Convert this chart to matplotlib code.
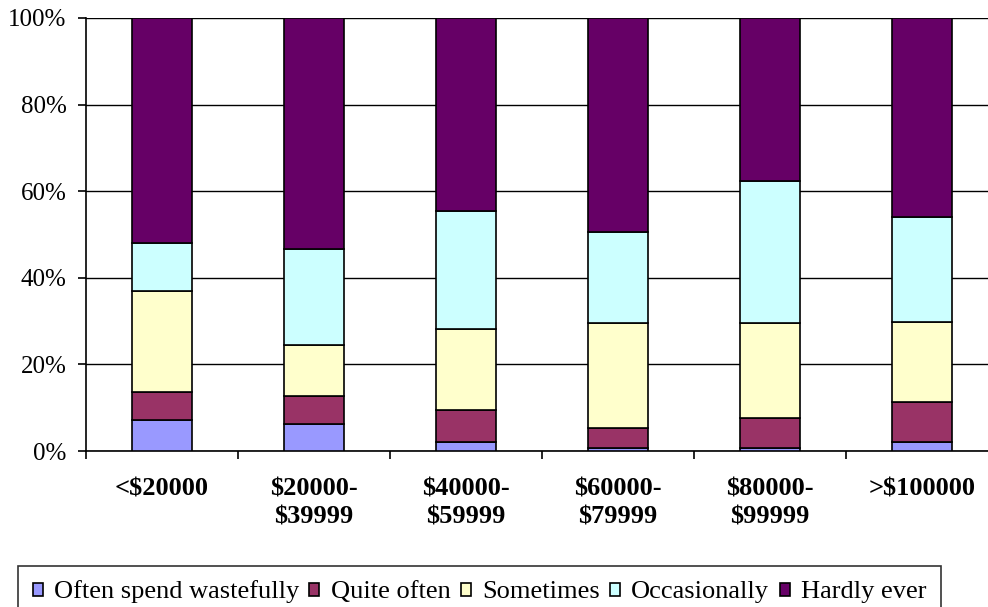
import numpy as np
import matplotlib.pyplot as plt
from matplotlib.ticker import FixedLocator, PercentFormatter

plt.rcParams["font.family"] = ["Liberation Serif", "DejaVu Serif"]

categories = ["<$20000", "$20000-\n$39999", "$40000-\n$59999", "$60000-\n$79999", "$80000-\n$99999", ">$100000"]
series_names = ["Often spend wastefully", "Quite often", "Sometimes", "Occasionally", "Hardly ever"]

# percentages (each column sums to 100)
often = [7.1, 6.2, 2.0, 0.6, 0.6, 2.0]
quite_often = [6.6, 6.5, 7.5, 4.7, 7.0, 9.3]
sometimes = [23.2, 11.7, 18.6, 24.2, 21.9, 18.6]
occasionally = [11.2, 22.2, 27.4, 21.0, 32.9, 24.1]
hardly_ever = [51.9, 53.4, 44.5, 49.5, 37.6, 46.0]

colors = ["#9999FF", "#993366", "#FFFFCC", "#CCFFFF", "#660066"]

fig = plt.figure(figsize=(9.88, 6.07), dpi=100)
W, H = 988, 607
# plot area runs past the right edge like the reference crop
ax = fig.add_axes([86 / W, (H - 451) / H, 912 / W, 433 / H])

x = np.arange(len(categories))
bottom = np.zeros(len(categories))
handles = []
for name, vals, col in zip(series_names, [often, quite_often, sometimes, occasionally, hardly_ever], colors):
    vals = np.array(vals)
    b = ax.bar(x, vals, width=0.395, bottom=bottom, color=col, edgecolor="black",
               linewidth=1.2, label=name, zorder=3)
    handles.append(b)
    bottom += vals

ax.set_xlim(-0.5, len(categories) - 0.5)
ax.set_ylim(0, 100)
ax.yaxis.set_major_locator(FixedLocator([0, 20, 40, 60, 80, 100]))
ax.yaxis.set_major_formatter(PercentFormatter(decimals=0))
ax.grid(axis="y", color="black", linewidth=1, zorder=0)

for side in ["top", "right"]:
    ax.spines[side].set_visible(False)
ax.spines["left"].set_linewidth(1.2)
ax.spines["bottom"].set_linewidth(1.2)

ax.set_xticks(x)
ax.set_xticklabels(categories, fontsize=19, fontweight="bold", linespacing=1.3)
ax.tick_params(axis="x", length=0, pad=19)
ax.set_xticks(np.arange(len(categories) + 1) - 0.5, minor=True)
ax.tick_params(axis="x", which="minor", length=6, width=1.2, direction="out")
ax.tick_params(axis="y", length=6, width=1.2, direction="out", labelsize=18, pad=8)

leg = fig.legend(handles=handles, loc="upper left", bbox_to_anchor=(18 / W, 1 - 566 / H),
                 ncol=5, fontsize=19, frameon=True, fancybox=False,
                 edgecolor="black", handlelength=0.38, handleheight=0.38, handletextpad=0.42,
                 columnspacing=0.4, borderpad=0.55, borderaxespad=0)
leg.get_frame().set_linewidth(1.2)

fig.savefig("out.png", dpi=100)
